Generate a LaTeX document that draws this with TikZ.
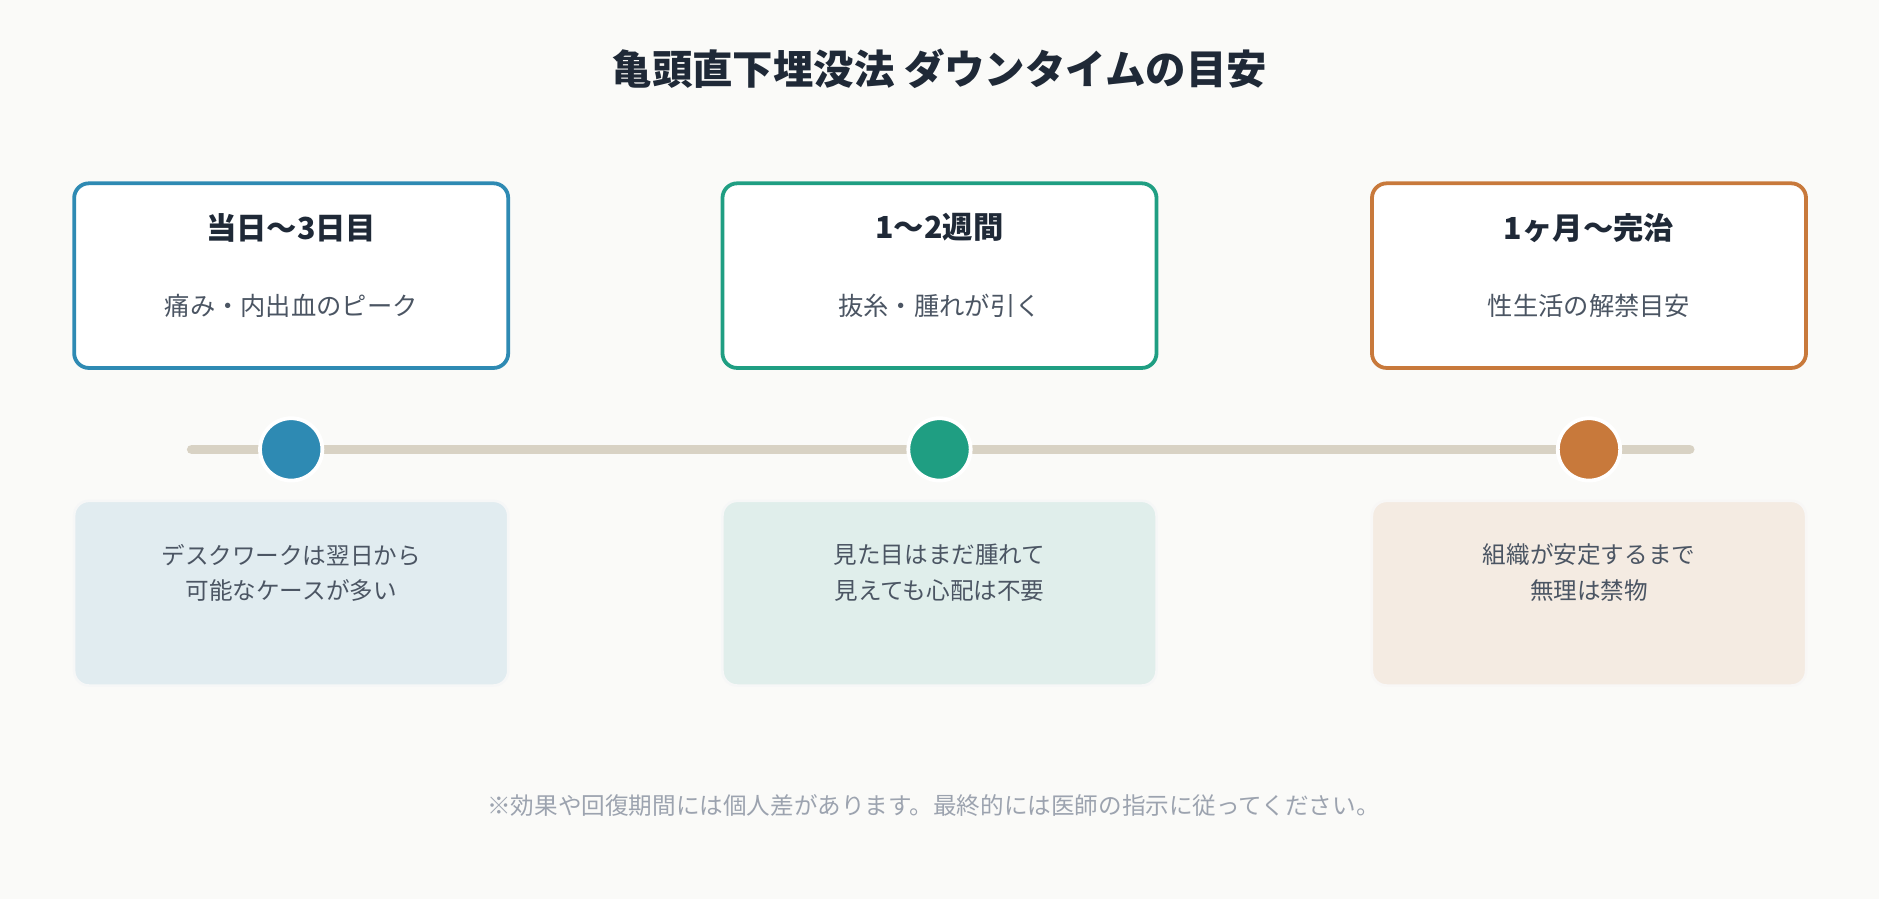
\documentclass[tikz,border=0pt]{standalone}
\usepackage{fontspec}
\setmainfont{Noto Sans CJK JP}
\usetikzlibrary{positioning}
\definecolor{bgpaper}{HTML}{FAFAF8}
\definecolor{inkdark}{HTML}{1F2937}
\definecolor{inkgray}{HTML}{4B5563}
\definecolor{inknote}{HTML}{9CA3AF}
\definecolor{railcol}{HTML}{D8D2C4}
\definecolor{stepblue}{HTML}{2E8AB3}
\definecolor{stepgreen}{HTML}{1F9E82}
\definecolor{steporange}{HTML}{C8793B}
\definecolor{fillblue}{HTML}{E1ECF0}
\definecolor{fillgreen}{HTML}{E0EEEB}
\definecolor{fillorange}{HTML}{F4EBE2}
\tikzset{
  topbox/.style={draw=#1, line width=0.9pt, fill=white, rounded corners=3.5pt,
    minimum width=3.62cm, minimum height=1.54cm},
  lowbox/.style={draw=#1!80!black!12, line width=0.6pt, fill=#1, rounded corners=3.5pt,
    minimum width=3.62cm, minimum height=1.54cm},
  dot/.style={circle, fill=#1, draw=white, line width=0.9pt, minimum size=0.52cm, inner sep=0pt},
  boxhead/.style={font=\fontsize{7.2pt}{9pt}\selectfont\bfseries, text=inkdark},
  boxsub/.style={font=\fontsize{6pt}{8pt}\selectfont, text=inkgray},
  lowtext/.style={font=\fontsize{5.6pt}{8.5pt}\selectfont, text=inkgray, align=center}
}
\begin{document}
\begin{tikzpicture}[x=0.01cm, y=-0.01cm]
    % Background
    \fill[bgpaper] (0,0) rectangle (1568,750);

    % Title
    \node[font=\fontsize{9.6pt}{11pt}\selectfont\bfseries, text=inkdark] (title) at (784,57) {亀頭直下埋没法 ダウンタイムの目安};

    % Timeline rail
    \coordinate (railL) at (160,375);
    \coordinate (railR) at (1410,375);
    \draw[railcol, line width=2.3pt, line cap=round] (railL) -- (railR);

    % Top cards
    \node[topbox=stepblue] (cardA) at (243,230) {};
    \node[topbox=stepgreen] (cardB) at (784,230) {};
    \node[topbox=steporange] (cardC) at (1326,230) {};
    \node[boxhead] at (243,190) {当日〜3日目};
    \node[boxsub] at (243,255) {痛み・内出血のピーク};
    \node[boxhead] at (784,190) {1〜2週間};
    \node[boxsub] at (784,255) {抜糸・腫れが引く};
    \node[boxhead] at (1326,190) {1ヶ月〜完治};
    \node[boxsub] at (1326,255) {性生活の解禁目安};

    % Markers on the rail
    \node[dot=stepblue] (dotA) at (243,375) {};
    \node[dot=stepgreen] (dotB) at (784,375) {};
    \node[dot=steporange] (dotC) at (1326,375) {};

    % Lower notes
    \node[lowbox=fillblue] (noteA) at (243,495) {};
    \node[lowbox=fillgreen] (noteB) at (784,495) {};
    \node[lowbox=fillorange] (noteC) at (1326,495) {};
    \node[lowtext] at (243,478) {デスクワークは翌日から\\可能なケースが多い};
    \node[lowtext] at (784,478) {見た目はまだ腫れて\\見えても心配は不要};
    \node[lowtext] at (1326,478) {組織が安定するまで\\無理は禁物};

    % Footnote
    \node[font=\fontsize{5.6pt}{7pt}\selectfont, text=inknote] (note) at (779,672) {※効果や回復期間には個人差があります。最終的には医師の指示に従ってください。};
\end{tikzpicture}
\end{document}
